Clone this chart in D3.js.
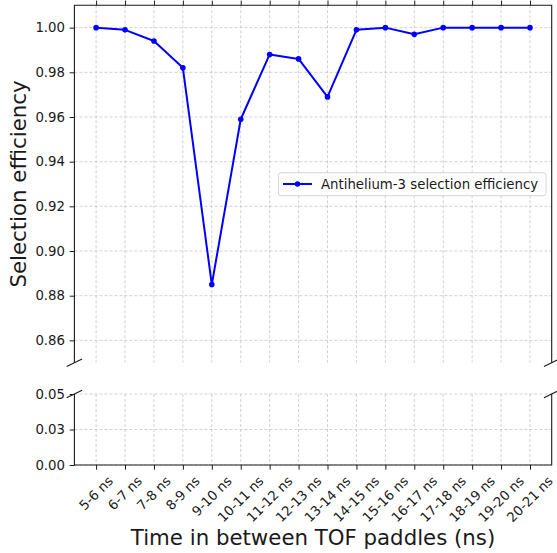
<!DOCTYPE html>
<html>
<head>
<meta charset="utf-8">
<script src="https://cdn.jsdelivr.net/npm/d3@7/dist/d3.min.js"></script>
<style>
  html, body { margin: 0; padding: 0; background: #fff; }
  svg { display: block; font-family: "DejaVu Sans", sans-serif; }
</style>
</head>
<body>
<svg id="chart" width="557" height="553"></svg>
<script>
// Time windows between TOF paddles
const categories = ["5-6 ns", "6-7 ns", "7-8 ns", "8-9 ns", "9-10 ns", "10-11 ns", "11-12 ns",
  "12-13 ns", "13-14 ns", "14-15 ns", "15-16 ns", "16-17 ns", "17-18 ns", "18-19 ns",
  "19-20 ns", "20-21 ns"];
// Antihelium-3 selection efficiency per window
const efficiency = [1.000, 0.999, 0.994, 0.982, 0.885, 0.959, 0.988, 0.986, 0.969,
  0.999, 1.000, 0.997, 1.000, 1.000, 1.000, 1.000];
const upperTicks = [0.86, 0.88, 0.90, 0.92, 0.94, 0.96, 0.98, 1.00];
const lowerTicks = [0.00, 0.025, 0.05];
const lowerTickLabels = ["0.00", "0.03", "0.05"];
const seriesName = "Antihelium-3 selection efficiency";

const svg = d3.select("#chart");
const left = 74.4, right = 551.7;
const upper = { top: 5.3, bottom: 362.7, domain: [0.85, 1.01] };
const lower = { top: 394, bottom: 465, domain: [0, 0.05] };
const textColor = "#1a1a1a";
const fontTick = 13.3;
const fontTitle = 21.3;
const tickLen = 4.7;

const x = d3.scaleLinear().domain([-0.75, categories.length - 1 + 0.75]).range([left, right]);
const yU = d3.scaleLinear().domain(upper.domain).range([upper.bottom, upper.top]);
const yL = d3.scaleLinear().domain(lower.domain).range([lower.bottom, lower.top]);

const gridStyle = s => s.attr("stroke", "#bdbdbd").attr("stroke-width", 0.7).attr("stroke-dasharray", "3,2");

// gridlines
function drawGrid(panel, yScale, ticks) {
  const g = svg.append("g");
  g.selectAll(".vx").data(categories).join("line")
    .attr("x1", (d, i) => x(i)).attr("x2", (d, i) => x(i))
    .attr("y1", panel.top).attr("y2", panel.bottom).call(gridStyle);
  g.selectAll(".hy").data(ticks).join("line")
    .attr("x1", left).attr("x2", right)
    .attr("y1", d => yScale(d)).attr("y2", d => yScale(d)).call(gridStyle);
}
drawGrid(upper, yU, upperTicks);
drawGrid(lower, yL, lowerTicks);

// y axes
const axisU = svg.append("g").attr("transform", `translate(${left},0)`)
  .call(d3.axisLeft(yU).tickValues(upperTicks).tickFormat(d3.format(".2f")).tickSize(tickLen).tickPadding(4.7));
const axisL = svg.append("g").attr("transform", `translate(${left},0)`)
  .call(d3.axisLeft(yL).tickValues(lowerTicks).tickFormat((d, i) => lowerTickLabels[i]).tickSize(tickLen).tickPadding(4.7));
[axisU, axisL].forEach(a => {
  a.select(".domain").remove();
  a.selectAll("line").attr("stroke", textColor).attr("stroke-width", 1);
  a.selectAll("text").attr("fill", textColor).style("font-size", fontTick + "px")
    .style("font-family", "DejaVu Sans");
});

// x ticks: on top of upper panel, on bottom of lower panel
const xTop = svg.append("g").attr("transform", `translate(0,${upper.top})`)
  .call(d3.axisTop(x).tickValues(d3.range(categories.length)).tickFormat("").tickSize(tickLen));
const xBot = svg.append("g").attr("transform", `translate(0,${lower.bottom})`)
  .call(d3.axisBottom(x).tickValues(d3.range(categories.length)).tickFormat("").tickSize(tickLen));
[xTop, xBot].forEach(a => {
  a.select(".domain").remove();
  a.selectAll("line").attr("stroke", textColor).attr("stroke-width", 1);
});

// rotated category labels, centred under each tick
const labelTop = lower.bottom + tickLen + 4.5;
const lbl = svg.append("g").selectAll("text").data(categories).join("text")
  .attr("text-anchor", "middle").attr("dominant-baseline", "central")
  .attr("fill", textColor).style("font-size", fontTick + "px").text(d => d);
lbl.each(function (d, i) {
  const w = this.getComputedTextLength();
  const h = fontTick * 0.95;
  const half = (w + h) * Math.SQRT1_2 / 2;
  d3.select(this).attr("transform", `translate(${x(i)},${labelTop + half}) rotate(-45)`);
});

// spines
const spine = s => s.attr("stroke", textColor).attr("stroke-width", 1.1).attr("fill", "none");
svg.append("path").attr("d", `M${left},${upper.bottom}V${upper.top}H${right}V${upper.bottom}`).call(spine);
svg.append("path").attr("d", `M${left},${lower.top}V${lower.bottom}H${right}V${lower.top}`).call(spine);

// break marks
[[left, upper.bottom], [right, upper.bottom], [left, lower.top], [right, lower.top]].forEach(([cx, cy]) => {
  svg.append("line").attr("x1", cx - 7.7).attr("y1", cy + 3.7).attr("x2", cx + 7.7).attr("y2", cy - 3.7)
    .call(spine);
});

// series
const blue = "#0000ff";
const line = d3.line().x((d, i) => x(i)).y(d => yU(d));
svg.append("path").datum(efficiency).attr("d", line)
  .attr("fill", "none").attr("stroke", blue).attr("stroke-width", 2).attr("stroke-linejoin", "round");
svg.append("g").selectAll("circle").data(efficiency).join("circle")
  .attr("cx", (d, i) => x(i)).attr("cy", d => yU(d)).attr("r", 2.8).attr("fill", blue);

// legend
const lg = svg.append("g");
lg.append("rect").attr("x", 278.5).attr("y", 172.7).attr("width", 267.5).attr("height", 23)
  .attr("rx", 2.5).attr("fill", "#fff").attr("fill-opacity", 0.85).attr("stroke", "#d0d0d0").attr("stroke-width", 0.9);
lg.append("line").attr("x1", 283).attr("x2", 312).attr("y1", 184).attr("y2", 184)
  .attr("stroke", blue).attr("stroke-width", 2);
lg.append("circle").attr("cx", 297.5).attr("cy", 184).attr("r", 2.8).attr("fill", blue);
lg.append("text").attr("x", 321).attr("y", 188.8).attr("fill", textColor)
  .style("font-size", fontTick + "px").text(seriesName);

// axis titles
svg.append("text").attr("x", (left + right) / 2).attr("y", 545).attr("text-anchor", "middle")
  .attr("fill", textColor).style("font-size", fontTitle + "px").text("Time in between TOF paddles (ns)");
svg.append("text").attr("transform", `translate(25.5,${(upper.top + upper.bottom) / 2}) rotate(-90)`)
  .attr("text-anchor", "middle").attr("fill", textColor).style("font-size", fontTitle + "px")
  .text("Selection efficiency");
</script>
</body>
</html>
